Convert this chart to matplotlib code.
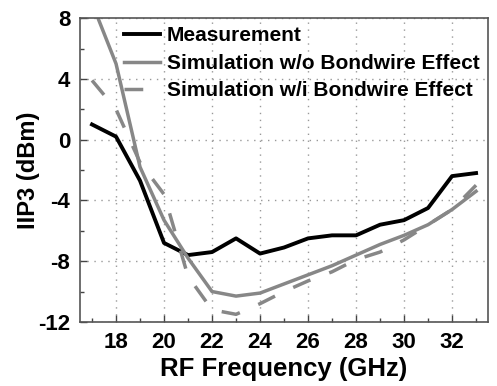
import numpy as np
import matplotlib.pyplot as plt
from matplotlib.ticker import MultipleLocator

plt.rcParams['font.family'] = ['Liberation Sans', 'DejaVu Sans']
plt.rcParams['font.weight'] = 'bold'
plt.rcParams['axes.unicode_minus'] = False

# data
freq = [17, 18, 19, 20, 21, 22, 23, 24, 25, 26, 27, 28, 29, 30, 31, 32, 33]
meas = [1.0, 0.2, -2.7, -6.8, -7.6, -7.4, -6.5, -7.5, -7.1, -6.5, -6.3, -6.3, -5.6, -5.3, -4.5, -2.4, -2.2]
sim_wo = [9.0, 5.0, -1.8, -5.3, -7.8, -10.0, -10.3, -10.1, -9.5, -8.9, -8.3, -7.6, -6.9, -6.3, -5.6, -4.6, -3.4]
sim_wi = [3.9, 2.0, -1.5, -3.6, -9.0, -11.2, -11.5, -10.8, -10.0, -9.3, -8.7, -7.9, -7.4, -6.6, -5.6, -4.6, -3.0]

fig = plt.figure(figsize=(4.97, 3.86), dpi=100)
ax = fig.add_axes([0.161, 0.166, 0.821, 0.787])

gray = '#878787'
ax.plot(freq, meas, color='black', lw=2.8, label='Measurement')
ax.plot(freq, sim_wo, color=gray, lw=2.5, label='Simulation w/o Bondwire Effect')
ax.plot(freq, sim_wi, color=gray, lw=2.5, ls=(0, (5.4, 5.8)), label='Simulation w/i Bondwire Effect')

ax.set_xlim(16.5, 33.5)
ax.set_ylim(-12, 8)
ax.xaxis.set_major_locator(MultipleLocator(2))
ax.xaxis.set_minor_locator(MultipleLocator(1))
ax.yaxis.set_major_locator(MultipleLocator(4))
ax.yaxis.set_minor_locator(MultipleLocator(2))
ax.tick_params(which='both', direction='in', top=False, right=False, labelsize=16, width=1.0, color='#444444')
ax.tick_params(which='major', length=5, pad=7)
ax.tick_params(which='minor', length=3)
for s in ax.spines.values():
    s.set_color('#555555')
    s.set_linewidth(1.2)

ax.grid(True, which='major', ls=(0, (1, 4)), color='#999999', lw=1.0)

ax.set_xlabel('RF Frequency (GHz)', fontsize=18.5, fontweight='bold', labelpad=3)
ax.set_ylabel('IIP3 (dBm)', fontsize=17, fontweight='bold', labelpad=-1)

ax.legend(loc='upper right', frameon=False, fontsize=15, handlelength=1.7,
          handletextpad=0.35, labelspacing=0.4, borderaxespad=0.1, borderpad=0.3,
          bbox_to_anchor=(1.0, 1.0))

fig.savefig('out.png', dpi=100)
